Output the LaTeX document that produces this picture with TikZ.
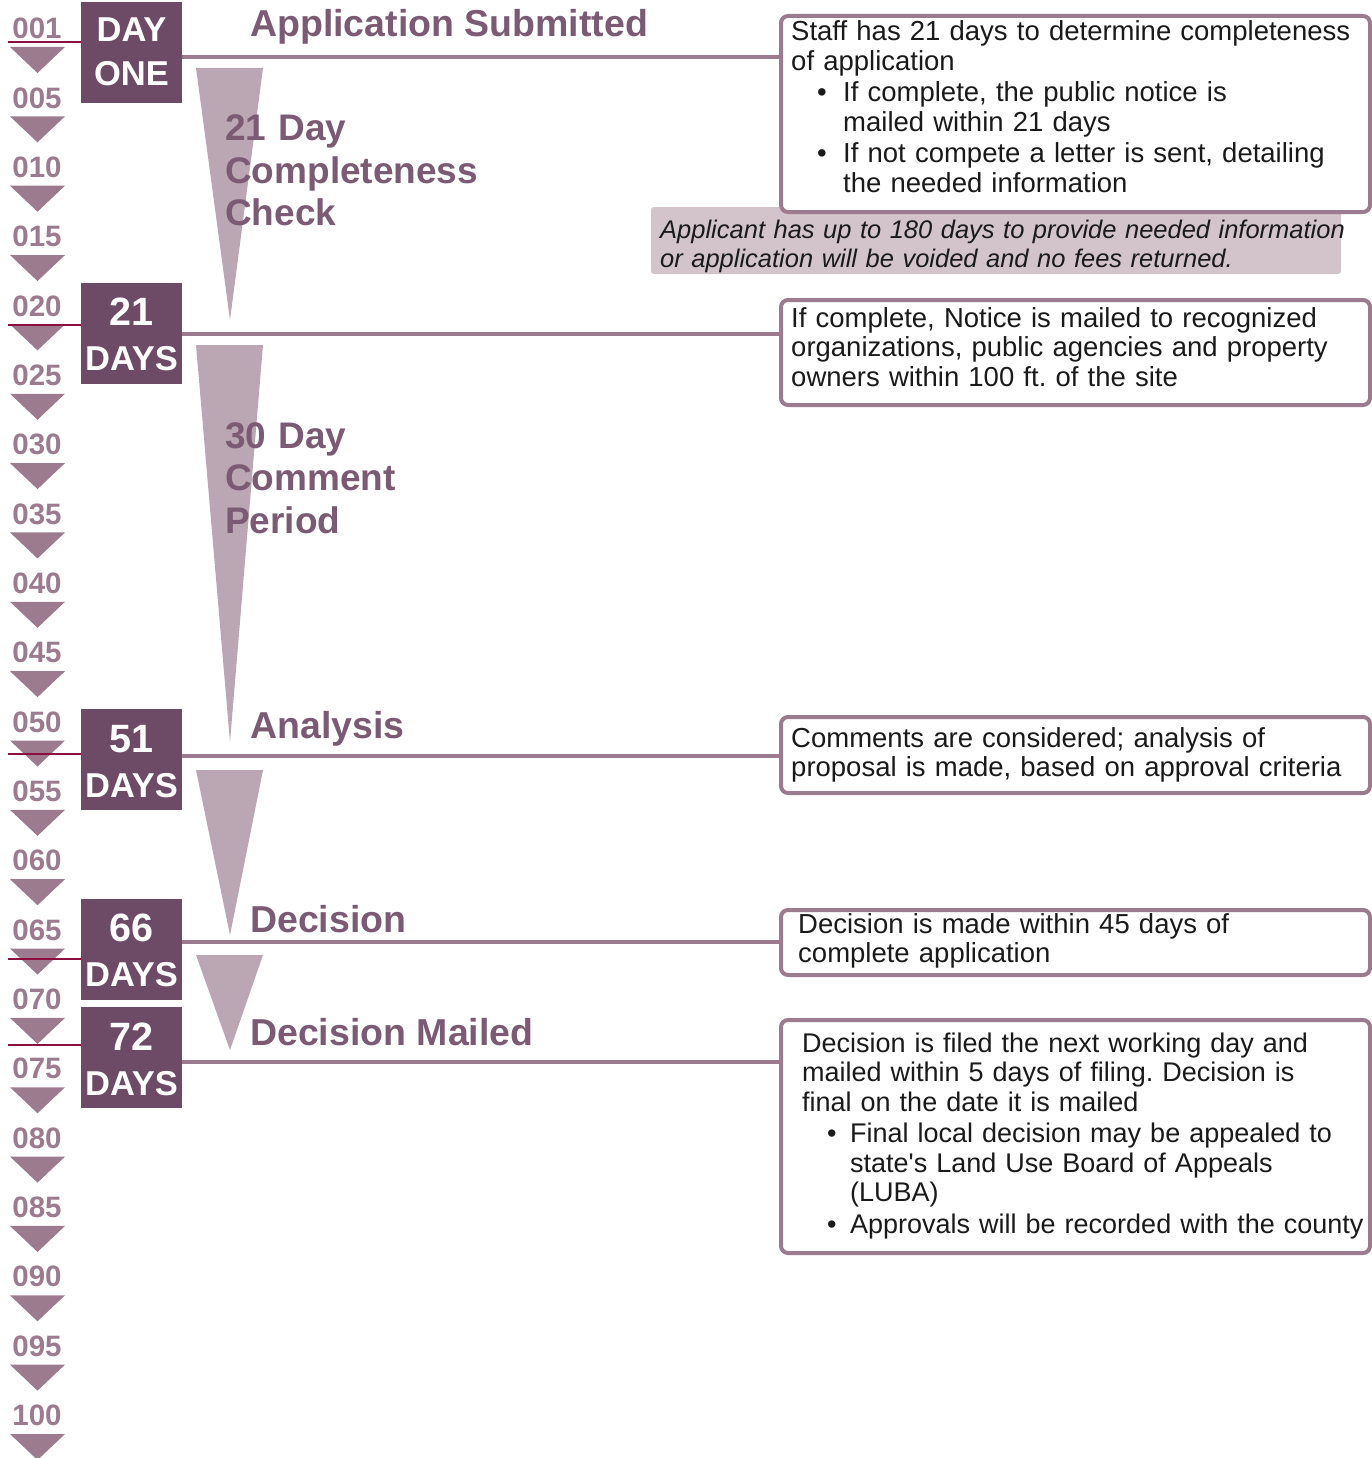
\documentclass[tikz,border=0pt]{standalone}
\usepackage{fontspec}
\setmainfont{Liberation Sans}
\definecolor{boxdark}{HTML}{6D4B66}
\definecolor{tricol}{HTML}{9C7B8F}
\definecolor{funnelcol}{HTML}{BBA6B3}
\definecolor{bandcol}{HTML}{D3C4CB}
\definecolor{titlecol}{HTML}{7B5B73}
\definecolor{redcol}{HTML}{8C0E3E}
\definecolor{textcol}{HTML}{1A1A1A}
\newcommand\bitem[1]{\makebox[52pt][l]{\hspace*{26pt}\textbullet}#1}
\newcommand\bcont{\hspace*{52pt}}
\newcommand\bitemb[1]{\makebox[48pt][l]{\hspace*{25pt}\textbullet}#1}
\newcommand\bcontb{\hspace*{48pt}}
\frenchspacing
\begin{document}
\begin{tikzpicture}[x=1pt,y=-1pt,
  daybox/.style={fill=boxdark, minimum width=101pt, minimum height=101pt, anchor=north west, inner sep=0pt, outer sep=0pt},
  daytxt/.style={text=white, font=\bfseries\fontsize{34.5}{40}\selectfont, anchor=base, inner sep=0pt},
  daynum/.style={text=white, font=\bfseries\fontsize{39.5}{44}\selectfont, anchor=base, inner sep=0pt},
  numlbl/.style={text=tricol, font=\bfseries\fontsize{29.5}{32}\selectfont, inner sep=0pt},
  titlest/.style={text=titlecol, font=\bfseries\fontsize{37.5}{42}\selectfont, anchor=base west, inner sep=0pt},
  funnellbl/.style={text=titlecol, font=\bfseries\fontsize{37}{42.5}\selectfont, anchor=base west, inner sep=0pt, text width=400pt, align=left},
  infobox/.style={draw=tricol, line width=4pt, rounded corners=7pt, fill=white, anchor=north west, inner sep=0pt, minimum width=589pt},
  infotxt/.style={text=textcol, font=\fontsize{27.5}{29.5}\selectfont, anchor=base west, inner sep=0pt, text width=620pt, align=left},
  bandtxt/.style={text=textcol, font=\itshape\fontsize{25.5}{29}\selectfont, anchor=base west, inner sep=0pt, text width=700pt, align=left},
  hline/.style={draw=tricol, line width=4.5pt},
  redline/.style={draw=redcol, line width=2pt},
  funnel/.style={fill=funnelcol}
]
\useasboundingbox (0,0) rectangle (1372,1458);

% day scale
\foreach \i/\t in {0/001,1/005,2/010,3/015,4/020,5/025,6/030,7/035,8/040,9/045,10/050,11/055,12/060,13/065,14/070,15/075,16/080,17/085,18/090,19/095,20/100}{
  \node[numlbl] (n\i) at (37,28.5+69.35*\i) {\t};
  \fill[tricol] (10,47+69.35*\i) -- (65,47+69.35*\i) -- (37.5,73+69.35*\i) -- cycle;
}

% funnels
\fill[funnel] (196,68) -- (263,68) -- (230,320) -- cycle;
\fill[funnel] (196,345) -- (263,345) -- (230,742) -- cycle;
\fill[funnel] (196,770) -- (263,770) -- (230,935) -- cycle;
\fill[funnel] (196,955) -- (263,955) -- (230,1050) -- cycle;

% day boxes
\node[daybox] (d1) at (81,2) {};
\node[daybox] (d21) at (81,283) {};
\node[daybox] (d51) at (81,709) {};
\node[daybox] (d66) at (81,899) {};
\node[daybox] (d72) at (81,1007) {};
\node[daytxt] (d1a) at (131.5,42) {DAY};
\node[daytxt] (d1b) at (131.5,86) {ONE};
\node[daynum] (d21a) at (131.5,325) {21};
\node[daytxt] (d21b) at (131.5,370) {DAYS};
\node[daynum] (d51a) at (131.5,752) {51};
\node[daytxt] (d51b) at (131.5,797) {DAYS};
\node[daynum] (d66a) at (131.5,941) {66};
\node[daytxt] (d66b) at (131.5,986) {DAYS};
\node[daynum] (d72a) at (131.5,1050) {72};
\node[daytxt] (d72b) at (131.5,1095) {DAYS};

% red marker lines
\coordinate (r1) at (8,42);
\coordinate (r21) at (8,325);
\coordinate (r51) at (8,754);
\coordinate (r66) at (8,959);
\coordinate (r72) at (8,1045);
\draw[redline] (r1) -- (d1.west |- r1);
\draw[redline] (r21) -- (d21.west |- r21);
\draw[redline] (r51) -- (d51.west |- r51);
\draw[redline] (r66) -- (d66.west |- r66);
\draw[redline] (r72) -- (d72.west |- r72);

% titles
\node[titlest] (t1) at (250,37) {Application Submitted};
\node[titlest] (t51) at (250,738) {Analysis};
\node[titlest] (t66) at (250,932) {Decision};
\node[titlest] (t72) at (250,1045) {Decision Mailed};
\node[funnellbl] (f1) at (225,141) {21 Day\\Completeness\\Check};
\node[funnellbl] (f2) at (225,448) {30 Day\\Comment\\Period};

% band
\fill[bandcol, rounded corners=3pt] (651,207) rectangle (1341,274);
\node[bandtxt] (band) at (660,238) {Applicant has up to 180 days to provide needed information\\or application will be voided and no fees returned.};

% info boxes
\node[infobox, minimum height=196pt] (i1) at (779,14) {};
\node[infobox, minimum height=105pt] (i2) at (779,298) {};
\node[infobox, minimum height=76pt] (i3) at (779,715) {};
\node[infobox, minimum height=65pt] (i4) at (779,908) {};
\node[infobox, minimum height=233pt] (i5) at (779,1018) {};

\node[infotxt] (i1t) at (791,41) {Staff has 21 days to determine completeness\\
of application\\[2pt]
\bitem{If complete, the public notice is}\\
\bcont mailed within 21 days\\[2pt]
\bitem{If not compete a letter is sent, detailing}\\
\bcont the needed information};
\node[infotxt] (i2t) at (791,327) {If complete, Notice is mailed to recognized\\organizations, public agencies and property\\owners within 100 ft. of the site};
\node[infotxt] (i3t) at (791,747) {Comments are considered; analysis of\\proposal is made, based on approval criteria};
\node[infotxt] (i4t) at (798,933) {Decision is made within 45 days of\\complete application};
\node[infotxt, font=\fontsize{27}{29.5}\selectfont] (i5t) at (802,1052) {Decision is filed the next working day and\\
mailed within 5 days of filing. Decision is\\
final on the date it is mailed\\[2pt]
\bitemb{Final local decision may be appealed to}\\
\bcontb state\textquotesingle s Land Use Board of Appeals\\
\bcontb (LUBA)\\[2pt]
\bitemb{Approvals will be recorded with the county}};

% connectors
\coordinate (h1) at (0,57);
\coordinate (h21) at (0,334);
\coordinate (h51) at (0,756);
\coordinate (h66) at (0,942);
\coordinate (h72) at (0,1062);
\draw[hline] (d1.east |- h1) -- (i1.west |- h1);
\draw[hline] (d21.east |- h21) -- (i2.west |- h21);
\draw[hline] (d51.east |- h51) -- (i3.west |- h51);
\draw[hline] (d66.east |- h66) -- (i4.west |- h66);
\draw[hline] (d72.east |- h72) -- (i5.west |- h72);
\end{tikzpicture}
\end{document}
